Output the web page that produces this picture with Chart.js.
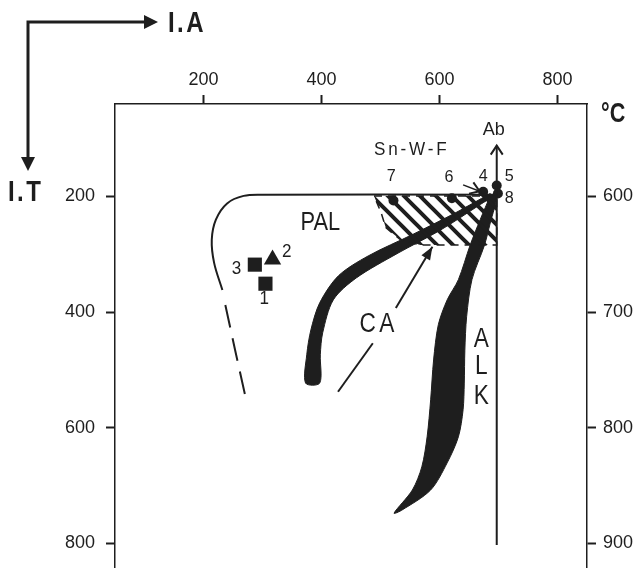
<!DOCTYPE html>
<html>
<head>
<meta charset="utf-8">
<script src="https://cdn.jsdelivr.net/npm/chart.js@4.4.1/dist/chart.umd.min.js"></script>
<style>
	html, body { margin: 0; padding: 0; background: #fff; }
	#wrap { position: relative; width: 639px; height: 568px; }
</style>
</head>
<body>
<div id="wrap"><canvas id="chart"></canvas></div>
<script>
// axis ticks
var xTicks = [ 200, 400, 600, 800 ];
var yTicks = [ 200, 400, 600, 800 ];
var tempTicks = [ 600, 700, 800, 900 ];

// PAL field outline (solid), then its dashed tail
var palLine = [ [697,197], [300,197], [268,199], [240,212], [221,240], [214,275], [218,315], [232,362] ];
var palDash = [ [237,388], [254,468], [271,546] ];

// hatched Sn-W-F field
var hatchField = [ [489,199], [697,199], [697,284], [568,284], [534,275], [509,254], [501,228], [489,199] ];

// calc-alkaline trend (CA) band outline
var caBand = [ [686,195], [624,230], [556,265], [479,303], [429,337], [397,384], [382,431], [375,474], [373,523],
	[397,523], [398,474], [402,436], [420,379], [459,341], [528,299], [602,258], [669,214], [689,200], [686,195] ];

// alkaline trend (ALK) band outline
var alkBand = [ [686,199], [669,240], [652,284], [632,344], [613,379], [598,422], [590,483], [585,552], [579,616],
	[570,668], [554,708], [523,748], [536,743], [585,708], [613,661], [632,616], [640,569], [642,523], [643,466],
	[646,408], [655,344], [676,285], [686,246], [697,199], [686,199] ];

// guide lines and arrows
var abLine = [ [697,197], [697,803] ];
var abArrow = [ [697,197], [697,112] ];
var caArrowLow = [ [428,538], [487,454] ];
var caArrowUp = [ [526,393], [588,287] ];
var sixArrow = [ [640,180], [668,191] ];

// samples
var circles = [ [522,207], [621,203], [674,192], [697,181], [699,195] ];
var squares = [ [287,318], [305,351] ];
var triangles = [ [317,309] ];

// text notes
var noteText = [ 'PAL', 'CA', 'A', 'L', 'K', 'Sn-W-F', 'Ab', '7', '6', '4', '5', '8', '3', '2', '1' ];
var noteX = [ 398, 497, 671, 671, 671, 553, 692, 518, 616, 674, 718, 718, 256, 341, 303 ];
var noteY = [ 246, 422, 448, 495, 546, 119, 85, 165, 167, 165, 165, 203, 325, 297, 377 ];
var noteSize = [ 26, 27, 27, 27, 27, 18, 19, 17, 17, 17, 17, 17, 18, 18, 18 ];

var ink = '#1e1e1e';
var font = '"Liberation Sans", Arial, sans-serif';

function pts( a ) {
	return a.map( function( p ) { return { x: p[0], y: p[1] }; } );
}

function makeHatch() {
	var c = document.createElement( 'canvas' );
	c.width = 16; c.height = 16;
	var g = c.getContext( '2d' );
	g.strokeStyle = ink;
	g.lineWidth = 4;
	g.beginPath();
	g.moveTo( -4, -4 ); g.lineTo( 20, 20 );
	g.moveTo( -4, 12 ); g.lineTo( 4, 20 );
	g.moveTo( 12, -4 ); g.lineTo( 20, 4 );
	g.stroke();
	return g.createPattern( c, 'repeat' );
}

function line( data, opts ) {
	var ds = {
		data: pts( data ),
		showLine: true,
		borderColor: ink,
		borderWidth: 2,
		pointRadius: 0,
		fill: false,
		tension: 0
	};
	for ( var k in opts ) ds[k] = opts[k];
	return ds;
}

function head( ctx, x, y, ang, len, half, filled ) {
	var bx = x - Math.cos( ang ) * len, by = y - Math.sin( ang ) * len;
	var nx = -Math.sin( ang ) * half, ny = Math.cos( ang ) * half;
	ctx.beginPath();
	ctx.moveTo( bx + nx, by + ny );
	ctx.lineTo( x, y );
	ctx.lineTo( bx - nx, by - ny );
	if ( filled ) { ctx.closePath(); ctx.fill(); } else { ctx.stroke(); }
}

// text squeezed sideways, the figure uses a condensed face
function squeezed( ctx, txt, x, y, sq ) {
	ctx.save();
	ctx.translate( x, y );
	ctx.scale( sq, 1 );
	ctx.fillText( txt, 0, 0 );
	ctx.restore();
}

/* arrowheads at the end of flagged datasets */
var arrowHeads = {
	id: 'arrowHeads',
	afterDatasetsDraw: function( chart ) {
		var ctx = chart.ctx;
		ctx.save();
		ctx.strokeStyle = ink; ctx.fillStyle = ink; ctx.lineWidth = 2;
		chart.data.datasets.forEach( function( ds, i ) {
			if ( ! ds.arrow ) return;
			var el = chart.getDatasetMeta( i ).data;
			var a = el[ el.length - 2 ], b = el[ el.length - 1 ];
			var ang = Math.atan2( b.y - a.y, b.x - a.x );
			if ( ds.arrow === 'filled' ) head( ctx, b.x, b.y, ang, 13, 5, true );
			else head( ctx, b.x, b.y, ang, 9, 6, false );
		});
		ctx.restore();
	}
};

/* text notes placed through the scales */
var notes = {
	id: 'notes',
	afterDatasetsDraw: function( chart ) {
		var ctx = chart.ctx, sx = chart.scales.x, sy = chart.scales.y;
		ctx.save();
		ctx.fillStyle = ink;
		ctx.textAlign = 'center';
		ctx.textBaseline = 'middle';
		for ( var i = 0; i < noteText.length; i++ ) {
			var t = noteText[i];
			ctx.font = noteSize[i] + 'px ' + font;
			ctx.letterSpacing = t === 'Sn-W-F' ? '3px' : ( t === 'CA' ? '4px' : '0px' );
			var sq = noteSize[i] >= 26 ? 0.84 : 0.95;
			squeezed( ctx, t, sx.getPixelForValue( noteX[i] ), sy.getPixelForValue( noteY[i] ), sq );
		}
		ctx.restore();
	}
};

/* I.A / I.T corner arrows and the °C title */
var frame = {
	id: 'frame',
	afterDraw: function( chart ) {
		var ctx = chart.ctx;
		ctx.save();
		ctx.strokeStyle = ink; ctx.fillStyle = ink; ctx.lineWidth = 3;
		ctx.beginPath();
		ctx.moveTo( 28, 160 ); ctx.lineTo( 28, 22 ); ctx.lineTo( 146, 22 );
		ctx.stroke();
		head( ctx, 158, 22, 0, 14, 7, true );
		head( ctx, 28, 171, Math.PI / 2, 14, 7, true );
		ctx.textBaseline = 'middle';
		ctx.textAlign = 'left';
		ctx.font = 'bold 30px ' + font;
		ctx.letterSpacing = '3px';
		squeezed( ctx, 'I.A', 168, 24, 0.8 );
		squeezed( ctx, 'I.T', 8, 193, 0.8 );
		ctx.letterSpacing = '0px';
		ctx.font = 'bold 27px ' + font;
		squeezed( ctx, '°C', 601, 115, 0.8 );
		ctx.restore();
	}
};

function axisGrid() {
	return { drawOnChartArea: false, drawTicks: true, tickLength: 9, tickWidth: 2, color: ink };
}

function fixedTicks( list ) {
	return function( s ) { s.ticks = list.map( function( v ) { return { value: v }; } ); };
}

document.addEventListener( 'DOMContentLoaded', function() {
	var el = document.getElementById( 'chart' );

	new Chart( el.getContext( '2d' ), {
		type: 'scatter',
		data: {
			datasets: [
				line( hatchField, { fill: 'shape', backgroundColor: makeHatch(), borderWidth: 1.5, borderDash: [ 8, 6 ] } ),
				line( palLine, { tension: 0.35 } ),
				line( palDash, { borderDash: [ 23, 11 ] } ),
				line( abLine, {} ),
				line( abArrow, { arrow: 'open' } ),
				line( caArrowLow, {} ),
				line( caArrowUp, { arrow: 'filled' } ),
				line( sixArrow, { arrow: 'open', borderWidth: 1.5 } ),
				line( caBand, { fill: 'shape', backgroundColor: ink, borderWidth: 1, tension: 0.3 } ),
				line( alkBand, { fill: 'shape', backgroundColor: ink, borderWidth: 1, tension: 0.3 } ),
				{ data: pts( circles ), pointStyle: 'circle', pointRadius: 5, backgroundColor: ink, borderColor: ink, borderWidth: 0 },
				{ data: pts( squares ), pointStyle: 'rect', pointRadius: 10, backgroundColor: ink, borderColor: ink, borderWidth: 0 },
				{ data: pts( triangles ), pointStyle: 'triangle', pointRadius: 10, backgroundColor: ink, borderColor: ink, borderWidth: 0 }
			]
		},
		options: {
			responsive: true,
			maintainAspectRatio: false,
			animation: false,
			layout: { padding: 0, autoPadding: false },
			plugins: { legend: { display: false }, tooltip: { enabled: false } },
			scales: {
				x: {
					type: 'linear', position: 'top', min: 50, max: 850,
					afterBuildTicks: fixedTicks( xTicks ),
					afterFit: function( s ) { s.height = 104; s.paddingLeft = 0; s.paddingRight = 0; },
					grid: axisGrid(),
					border: { color: ink, width: 1.5 },
					ticks: { color: ink, padding: 4, font: { size: 18, family: font } }
				},
				y: {
					type: 'linear', position: 'left', reverse: true, min: 40, max: 843,
					afterBuildTicks: fixedTicks( yTicks ),
					afterFit: function( s ) { s.width = 115; s.paddingTop = 0; s.paddingBottom = 0; },
					grid: axisGrid(),
					border: { color: ink, width: 1.5 },
					ticks: { color: ink, padding: 11, font: { size: 18, family: font } }
				},
				t: {
					type: 'linear', position: 'right', reverse: true, min: 520, max: 921.5,
					afterBuildTicks: fixedTicks( tempTicks ),
					afterFit: function( s ) { s.width = 52; s.paddingTop = 0; s.paddingBottom = 0; },
					grid: axisGrid(),
					border: { color: ink, width: 1.5 },
					ticks: { color: ink, padding: 7, font: { size: 18, family: font } }
				}
			}
		},
		plugins: [ arrowHeads, notes, frame ]
	});
});
</script>
</body>
</html>
